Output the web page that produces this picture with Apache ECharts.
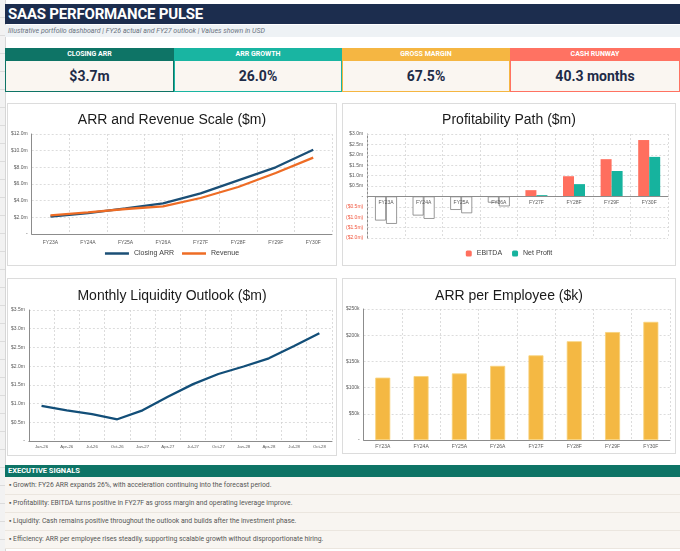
<!DOCTYPE html>
<html>
<head>
<meta charset="utf-8">
<script src="https://cdn.jsdelivr.net/npm/echarts@6/dist/echarts.min.js"></script>
<style>
  body { margin: 0; width: 680px; height: 551px; overflow: hidden; position: relative; background: #fff;
         font-family: "Liberation Sans", Arial, sans-serif; }
  .abs { position: absolute; box-sizing: border-box; }
  #strip { left: 0; top: 0; width: 6px; height: 551px; background: #f2f2f2; border-right: 1px solid #d6d6d6;
           background-image: repeating-linear-gradient(to bottom, transparent 0 17px, #dcdcdc 17px 18px); }
  #hdr { left: 5px; top: 4px; width: 675px; height: 20px; background: #1c2d4e; color: #fff;
         font: bold 15px Roboto, sans-serif; line-height: 20px; padding-left: 3px; letter-spacing: -0.2px; }
  #sub { left: 5px; top: 25px; width: 675px; height: 12px; background: #eef2f5; color: #6b7280;
         font: italic 7px Roboto, sans-serif; line-height: 12px; padding-left: 3px; }
  .kh { top: 48px; height: 13px; color: #fff; font: bold 7px Roboto, sans-serif; line-height: 13px; text-align: center; }
  .kv { top: 61px; height: 31px; background: #faf6f1; color: #1e2b47; font: bold 14px Roboto, sans-serif;
        line-height: 30px; text-align: center; border: 1px solid; border-top: none; }
  .panel { background: #fff; border: 1px solid #dcdcdc; }
  #exh { left: 5px; top: 465px; width: 675px; height: 12px; background: #0e7466; color: #fff;
         font: bold 7.5px Roboto, sans-serif; line-height: 12px; padding-left: 3px; }
  .exr { left: 5px; width: 675px; height: 18px; background: #f8f5f1; border-bottom: 1px solid #ebe6df;
         color: #555; font: 6.8px Roboto, sans-serif; line-height: 17px; padding-left: 4px; }
</style>
</head>
<body>
<div id="strip" class="abs"></div>
<div id="hdr" class="abs">SAAS PERFORMANCE PULSE</div>
<div id="sub" class="abs">Illustrative portfolio dashboard | FY26 actual and FY27 outlook | Values shown in USD</div>
<div id="kpis"></div>

<div id="arr_chart" class="abs panel" style="left:7px;top:103px;width:330px;height:163px;"></div>
<div id="profit_chart" class="abs panel" style="left:342px;top:103px;width:334px;height:163px;"></div>
<div id="cash_chart" class="abs panel" style="left:7px;top:278px;width:330px;height:178px;"></div>
<div id="emp_chart" class="abs panel" style="left:342px;top:278px;width:334px;height:176px;"></div>

<div id="exh" class="abs">EXECUTIVE SIGNALS</div>
<div id="signals"></div>

<script type="text/javascript">
    var years = ['FY23A', 'FY24A', 'FY25A', 'FY26A', 'FY27F', 'FY28F', 'FY29F', 'FY30F'];
    var closingArr = [2.08, 2.50, 3.08, 3.68, 4.88, 6.44, 8.00, 10.12];
    var revenue = [2.24, 2.60, 3.00, 3.32, 4.32, 5.64, 7.32, 9.16];
    var ebitda = [-1.16, -0.92, -0.65, -0.30, 0.30, 0.97, 1.79, 2.71];
    var netProfit = [-1.32, -1.08, -0.81, -0.48, 0.06, 0.59, 1.22, 1.90];
    var months = ['Jan-26', 'Apr-26', 'Jul-26', 'Oct-26', 'Jan-27', 'Apr-27', 'Jul-27', 'Oct-27', 'Jan-28', 'Apr-28', 'Jul-28', 'Oct-28'];
    var cash = [0.94, 0.82, 0.72, 0.58, 0.82, 1.18, 1.52, 1.79, 1.99, 2.21, 2.54, 2.88];
    var arrPerEmployee = [119, 122, 127, 141.5, 161.5, 188.5, 206, 225.5];

    var kpiLabels = ['CLOSING ARR', 'ARR GROWTH', 'GROSS MARGIN', 'CASH RUNWAY'];
    var kpiValues = ['$3.7m', '26.0%', '67.5%', '40.3 months'];
    var kpiColors = ['#0e7466', '#19b5a2', '#f5b642', '#ff7262'];
    var signals = [
        '\u25aa Growth: FY26 ARR expands 26%, with acceleration continuing into the forecast period.',
        '\u25aa Profitability: EBITDA turns positive in FY27F as gross margin and operating leverage improve.',
        '\u25aa Liquidity: Cash remains positive throughout the outlook and builds after the investment phase.',
        '\u25aa Efficiency: ARR per employee rises steadily, supporting scalable growth without disproportionate hiring.'
    ];

    // kpi cards
    var kpiX = [5, 174, 342, 510];
    var kpiHtml = '';
    for (var i = 0; i < 4; i++) {
        var w = (i < 3 ? kpiX[i + 1] : 680) - kpiX[i];
        kpiHtml += '<div class="abs kh" style="left:' + kpiX[i] + 'px;width:' + w + 'px;background:' + kpiColors[i] + '">' + kpiLabels[i] + '</div>';
        kpiHtml += '<div class="abs kv" style="left:' + kpiX[i] + 'px;width:' + w + 'px;border-color:' + kpiColors[i] + '">' + kpiValues[i] + '</div>';
    }
    document.getElementById('kpis').innerHTML = kpiHtml;

    var sigHtml = '';
    for (var j = 0; j < signals.length; j++) {
        sigHtml += '<div class="abs exr" style="top:' + (477 + j * 18) + 'px">' + signals[j] + '</div>';
    }
    document.getElementById('signals').innerHTML = sigHtml;

    var gridLine = { show: true, lineStyle: { color: '#d4d4d4', type: [2, 2], width: 0.8 } };
    var axisLine = { show: true, lineStyle: { color: '#8c8c8c', width: 1 } };
    var tinyLabel = { fontSize: 5, color: '#595959', fontFamily: 'Liberation Sans' };
    var titleStyle = { fontSize: 14, fontWeight: 'normal', color: '#1a1a1a', fontFamily: 'Liberation Sans' };

    function money(v, unit) {
        if (v === 0) return '-';
        var s = '$' + Math.abs(v).toFixed(unit === 'k' ? 0 : 1) + unit;
        return v < 0 ? '{neg|(' + s + ')}' : s;
    }

    function catAxis(data, extra) {
        var ax = {
            type: 'category', data: data, boundaryGap: true,
            axisTick: { show: false }, axisLine: axisLine,
            axisLabel: Object.assign({ margin: 6, interval: 0 }, tinyLabel),
            splitLine: gridLine
        };
        return Object.assign(ax, extra || {});
    }

    function valAxis(min, max, step, unit) {
        return {
            type: 'value', min: min, max: max, interval: step,
            axisLine: axisLine, axisTick: { show: false },
            axisLabel: Object.assign({ margin: 4, formatter: function (v) { return money(v, unit); },
                rich: { neg: { color: '#f0573f', fontSize: 5 } } }, tinyLabel),
            splitLine: gridLine
        };
    }

    // ARR and Revenue
    var arrChart = echarts.init(document.getElementById('arr_chart'));
    arrChart.setOption({
        animation: false,
        title: { text: 'ARR and Revenue Scale ($m)', left: 'center', top: 4, textStyle: titleStyle },
        grid: { left: 21, top: 30, right: 4, bottom: 31 },
        legend: { bottom: 3, icon: 'rect', itemWidth: 24, itemHeight: 2.5, itemGap: 8,
                  textStyle: { fontSize: 7, color: '#404040' } },
        xAxis: catAxis(years),
        yAxis: valAxis(0, 12, 2, 'm'),
        series: [
            { name: 'Closing ARR', type: 'line', data: closingArr, symbol: 'none', color: '#1b4f76', lineStyle: { width: 2.3 } },
            { name: 'Revenue', type: 'line', data: revenue, symbol: 'none', color: '#ee6c25', lineStyle: { width: 2.3 } }
        ]
    });

    // Profitability
    function barItems(values, color) {
        return values.map(function (v) {
            if (v < 0) return { value: v, itemStyle: { color: '#fff', borderColor: '#7f7f7f', borderWidth: 0.8 } };
            return { value: v, itemStyle: { color: color } };
        });
    }
    var profitChart = echarts.init(document.getElementById('profit_chart'));
    profitChart.setOption({
        animation: false,
        title: { text: 'Profitability Path ($m)', left: 'center', top: 4, textStyle: titleStyle },
        grid: { left: 23, top: 30, right: 7, bottom: 27 },
        legend: { bottom: 3, itemWidth: 6, itemHeight: 6, itemGap: 10,
                  textStyle: { fontSize: 7, color: '#404040' } },
        xAxis: catAxis(years, { z: 10, axisLine: { show: true, onZero: false, lineStyle: { color: '#8c8c8c', width: 1 } },
                                axisLabel: Object.assign({ margin: 4, interval: 0 }, tinyLabel) }),
        yAxis: valAxis(-2, 3, 0.5, 'm'),
        series: [
            { name: 'EBITDA', type: 'bar', data: barItems(ebitda, '#ff6f5e'), color: '#ff6f5e', barWidth: 11, barGap: '0%' },
            { name: 'Net Profit', type: 'bar', data: barItems(netProfit, '#16b39e'), color: '#16b39e', barWidth: 11 }
        ]
    });
    // move the category axis (line and labels) up to the zero line
    var zeroY = profitChart.convertToPixel({ yAxisIndex: 0 }, 0);
    var bottomY = profitChart.convertToPixel({ yAxisIndex: 0 }, -2);
    profitChart.setOption({ xAxis: { offset: -(bottomY - zeroY) } });

    // Monthly liquidity
    var cashChart = echarts.init(document.getElementById('cash_chart'));
    cashChart.setOption({
        animation: false,
        title: { text: 'Monthly Liquidity Outlook ($m)', left: 'center', top: 5, textStyle: titleStyle },
        grid: { left: 18, top: 31, right: 4, bottom: 14 },
        xAxis: catAxis(months, { axisLabel: Object.assign({ margin: 4, interval: 0 }, tinyLabel, { fontSize: 4.3 }) }),
        yAxis: valAxis(0, 3.5, 0.5, 'm'),
        series: [
            { name: 'Cash', type: 'line', data: cash, symbol: 'none', color: '#124e78', lineStyle: { width: 2.3 } }
        ]
    });

    // ARR per employee
    var empChart = echarts.init(document.getElementById('emp_chart'));
    empChart.setOption({
        animation: false,
        title: { text: 'ARR per Employee ($k)', left: 'center', top: 5, textStyle: titleStyle },
        grid: { left: 20, top: 30, right: 5, bottom: 13 },
        xAxis: catAxis(years, { axisLabel: Object.assign({ margin: 4, interval: 0 }, tinyLabel) }),
        yAxis: valAxis(0, 250, 50, 'k'),
        series: [
            { name: 'ARR per Employee', type: 'bar', data: arrPerEmployee, barWidth: 15,
              itemStyle: { color: '#f4b843', borderColor: '#f8d27a', borderWidth: 0.8 } }
        ]
    });
</script>
</body>
</html>
